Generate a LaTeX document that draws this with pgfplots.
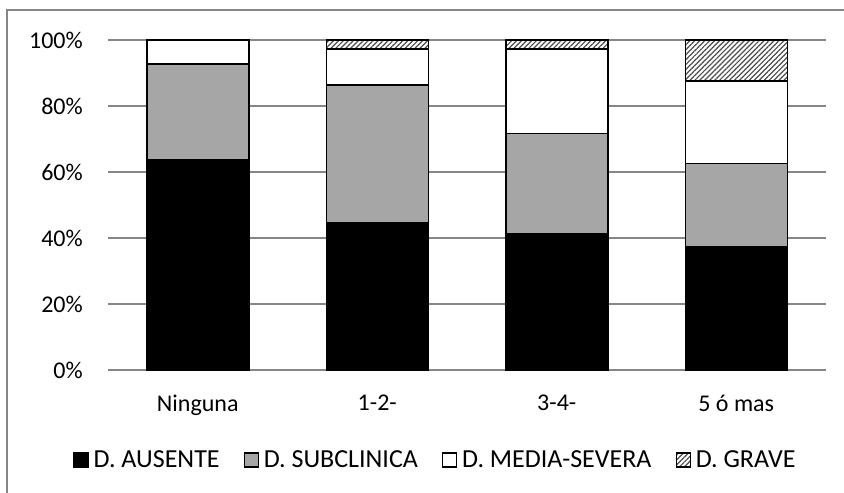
\documentclass[border=0pt]{standalone}
\usepackage{fontspec}
\setmainfont{Carlito}
\usepackage{pgfplots}
\pgfplotsset{compat=1.18}
\usetikzlibrary{patterns.meta}
\definecolor{gridgray}{HTML}{868686}
\definecolor{subgray}{HTML}{A6A6A6}

\begin{document}
\begin{tikzpicture}[x=1pt,y=1pt]
\useasboundingbox (0,0) rectangle (844,493);
\clip (0,0) rectangle (844,493);
\fill[white] (0,0) rectangle (844,493);
% chart frame (its right and bottom edges run past the page)
\draw[gridgray, line width=2pt] (7,483) rectangle (900,-50);
\begin{axis}[
  at={(108pt,123pt)}, anchor=south west,
  scale only axis, width=718pt, height=330pt,
  ybar stacked, bar width=102pt,
  xmin=-0.5, xmax=3.5, ymin=0, ymax=100,
  xtick={0,1,2,3}, xticklabels={Ninguna,1-2-,3-4-,5 ó mas},
  ytick={0,20,...,100},
  yticklabel={\pgfmathprintnumber{\tick}\%},
  /pgf/number format/assume math mode=true,
  axis line style={draw=none},
  major tick length=0pt,
  ymajorgrids, grid style={gridgray, line width=2pt},
  tick label style={font=\fontsize{24}{29}\selectfont},
  yticklabel style={anchor=east, inner sep=0pt, xshift=-25pt},
  xticklabel style={anchor=north, inner sep=0pt, yshift=-25pt},
  legend columns=4,
  legend style={at={(0.4547,-0.2727)}, anchor=center, draw=none,
    font=\fontsize{26}{31}\selectfont,
    nodes={inner sep=0pt},
    /tikz/every odd column/.append style={column sep=5pt},
    /tikz/every even column/.append style={column sep=24pt}},
  legend image code/.code={\draw[#1,line width=1.2pt] (0pt,-7pt) rectangle (14pt,7pt);},
]
\addplot[fill=black, draw=black, line width=1.5pt]
  coordinates {(0,63.6) (1,44.6) (2,41.2) (3,37.5)};
\addplot[fill=subgray, draw=black, line width=1.5pt]
  coordinates {(0,29.2) (1,41.8) (2,30.5) (3,25.0)};
\addplot[fill=white, draw=black, line width=1.5pt]
  coordinates {(0,7.2) (1,10.9) (2,25.6) (3,25.0)};
\addplot[pattern={Lines[angle=45, distance=3.5pt, line width=1.2pt]},
  pattern color=gray!60!black, draw=black, line width=1.5pt]
  coordinates {(0,0) (1,2.7) (2,2.7) (3,12.5)};
\legend{D. AUSENTE, D. SUBCLINICA, D. MEDIA-SEVERA, D. GRAVE}
\end{axis}
\end{tikzpicture}
\end{document}
